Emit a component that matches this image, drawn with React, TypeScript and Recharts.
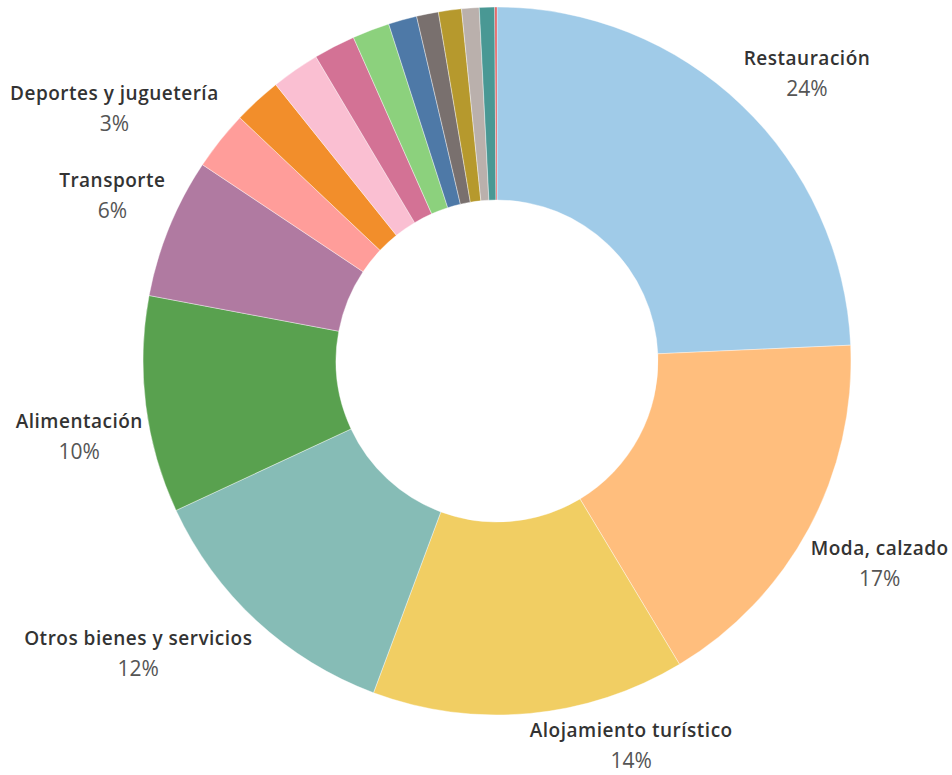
import React from 'react'
import { PieChart, Pie, Cell } from 'recharts'

// categorías (sentido horario desde las 12)
const categories = [
  'Restauración',
  'Moda, calzado',
  'Alojamiento turístico',
  'Otros bienes y servicios',
  'Alimentación',
  'Transporte',
  'Deportes y juguetería',
  'Hogar',
  'Belleza',
  'Salud',
  'Ocio y cultura',
  'Electrónica',
  'Joyería',
  'Librería',
  'Automoción',
  'Educación',
  'Otros',
]

// cuota de gasto (%)
const shares = [24.3, 17.1, 14.3, 12.4, 9.9, 6.4, 2.7, 2.2, 2.2, 1.9, 1.7, 1.3, 1.0, 1.05, 0.8, 0.7, 0.1]

const colors = [
  '#A0CBE8', '#FFBE7D', '#F1CE63', '#86BCB6', '#59A14F', '#B07AA1', '#FF9D9A',
  '#F28E2B', '#FABFD2', '#D37295', '#8CD17D', '#4E79A7', '#79706E', '#B6992D',
  '#BAB0AC', '#499894', '#E15759',
]

const labelled = categories.slice(0, 7)

const data = categories.map((name, i) => ({ name, value: shares[i] }))

// small nudges so labels land where the original put them
const nudge: Record<string, [number, number]> = {
  'Restauración': [17, 17],
  'Moda, calzado': [9, 1],
  'Alojamiento turístico': [95, -39],
  'Otros bienes y servicios': [-71, -20],
  'Alimentación': [3, 21],
  'Transporte': [8, -7],
  'Deportes y juguetería': [-51, 10],
}

const RAD = Math.PI / 180

const renderLabel = (props: any) => {
  const { cx, cy, midAngle, outerRadius, name, percent } = props
  if (!labelled.includes(name)) return null
  const r = outerRadius + 70
  const [dx, dy] = nudge[name] || [0, 0]
  const x = cx + r * Math.cos(-midAngle * RAD) + dx
  const y = cy + r * Math.sin(-midAngle * RAD) + dy
  return (
    <g>
      <text
        x={x}
        y={y - 14}
        textAnchor="middle"
        dominantBaseline="central"
        fill="#333"
        fontSize={19}
        fontWeight={600}
        letterSpacing={0.5}
        fontFamily="'Open Sans', sans-serif"
      >
        {name}
      </text>
      <text
        x={x}
        y={y + 16}
        textAnchor="middle"
        dominantBaseline="central"
        fill="#555"
        fontSize={21}
        fontFamily="'Open Sans', sans-serif"
      >
        {`${Math.round(percent * 100)}%`}
      </text>
    </g>
  )
}

export default function App() {
  return (
    <div style={{ position: 'absolute', left: 0, top: 0, width: 952, height: 775, background: '#fff' }}>
      <PieChart width={952} height={775} margin={{ top: 0, right: 0, bottom: 0, left: 0 }}>
        <Pie
          data={data}
          dataKey="value"
          nameKey="name"
          cx={497}
          cy={361}
          innerRadius={161}
          outerRadius={354}
          startAngle={90}
          endAngle={-270}
          stroke="#fff"
          strokeWidth={0.4}
          label={renderLabel}
          labelLine={false}
          isAnimationActive={false}
        >
          {data.map((d, i) => (
            <Cell key={d.name} fill={colors[i]} />
          ))}
        </Pie>
      </PieChart>
    </div>
  )
}
